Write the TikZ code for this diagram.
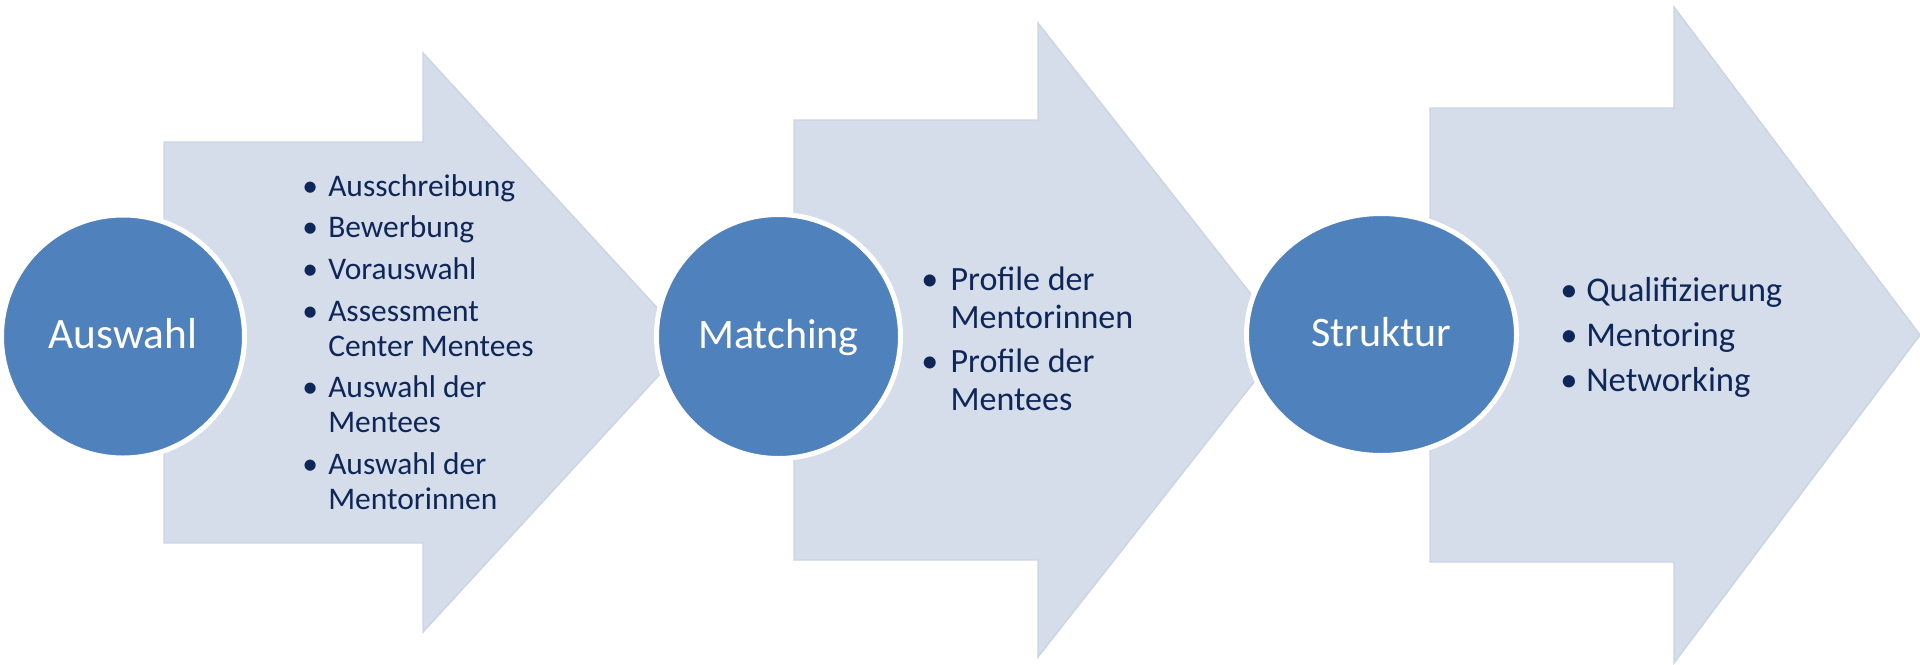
\documentclass[tikz,border=0pt]{standalone}
\usepackage{fontspec}
\setmainfont{Carlito}
\usepackage{tikz}
\usetikzlibrary{shapes.geometric}

\definecolor{arrowfill}{HTML}{D5DCEA}
\definecolor{arrowedge}{HTML}{CCD4E6}
\definecolor{stepblue}{HTML}{4F81BD}
\definecolor{listnavy}{HTML}{0E2758}

\begin{document}
\begin{tikzpicture}[x=0.75pt, y=-0.75pt,
  chevron/.style={fill=arrowfill, draw=arrowedge, line width=1.1pt},
  stage/.style={circle, fill=stepblue, draw=white, line width=3.75pt, text=white,
    font=\fontsize{32.5pt}{38pt}\selectfont, text height=22.5pt, text depth=4.5pt, inner sep=0pt},
  items/.style={anchor=base west, inner sep=0pt, text=listnavy}]
  \useasboundingbox (0,0) rectangle (1920,664);
  % the three arrows
  \draw[chevron] (164,142) -- (423,142) -- (423,53) -- (689,342.5) -- (423,632) -- (423,543) -- (164,543) -- cycle;
  \draw[chevron] (794,120) -- (1038,120) -- (1038,23) -- (1287,340) -- (1038,657) -- (1038,560) -- (794,560) -- cycle;
  \draw[chevron] (1430,108) -- (1674,108) -- (1674,7) -- (1920,335) -- (1674,663) -- (1674,562) -- (1430,562) -- cycle;
  % steps
  \node[stage, minimum size=182.25pt] (auswahl) at (123,336.5) {Auswahl};
  \node[stage, minimum size=183pt, font=\fontsize{31.5pt}{38pt}\selectfont] (matching) at (778.5,336.5) {Matching};
  \node[stage, ellipse, minimum width=202.5pt, minimum height=181.5pt, font=\fontsize{31.5pt}{38pt}\selectfont] (struktur) at (1381.5,334.5) {Struktur};
  % bullet lists
  \node[items, font=\fontsize{23.6pt}{26.25pt}\selectfont] (auswahl-list) at (302,196) {%
    \begin{tabular}[t]{@{}p{19.5pt}@{}l@{}}
      \textbullet & Ausschreibung\\[5pt]
      \textbullet & Bewerbung\\[5pt]
      \textbullet & Vorauswahl\\[5pt]
      \textbullet & Assessment\\
                  & Center Mentees\\[5pt]
      \textbullet & Auswahl der\\
                  & Mentees\\[5pt]
      \textbullet & Auswahl der\\
                  & Mentorinnen
    \end{tabular}};
  \node[items, font=\fontsize{25.5pt}{28.5pt}\selectfont] (matching-list) at (921,290) {%
    \begin{tabular}[t]{@{}p{22pt}@{}l@{}}
      \textbullet & Profile der\\
                  & Mentorinnen\\[5pt]
      \textbullet & Profile der\\
                  & Mentees
    \end{tabular}};
  \node[items, font=\fontsize{26pt}{29.25pt}\selectfont] (struktur-list) at (1560,301) {%
    \begin{tabular}[t]{@{}p{19.5pt}@{}l@{}}
      \textbullet & Qualifizierung\\[4.5pt]
      \textbullet & Mentoring\\[4.5pt]
      \textbullet & Networking
    \end{tabular}};
\end{tikzpicture}
\end{document}
